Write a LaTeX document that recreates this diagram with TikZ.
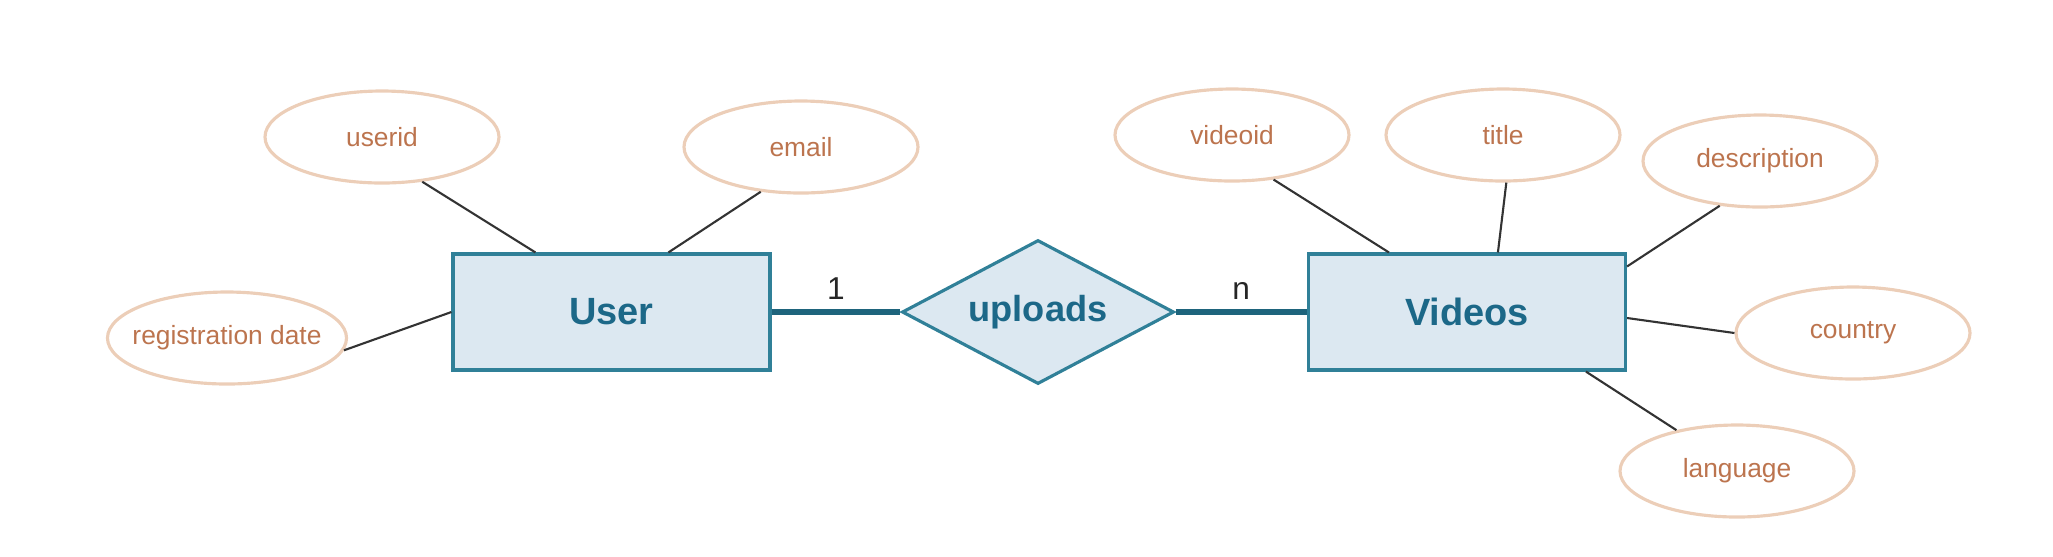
\documentclass[tikz,border=0pt]{standalone}
\usepackage{fontspec}
\setmainfont{Liberation Sans}
\usetikzlibrary{shapes.geometric,positioning}
\definecolor{entfill}{RGB}{220,232,241}
\definecolor{entline}{RGB}{48,128,152}
\definecolor{enttext}{RGB}{28,104,136}
\definecolor{attline}{RGB}{236,206,184}
\definecolor{atttext}{RGB}{188,116,78}
\definecolor{relline}{RGB}{30,100,124}
\tikzstyle{entity} = [rectangle, minimum width=3.17cm, minimum height=1.16cm, draw=entline, line width=0.9pt, fill=entfill, text=enttext, font=\fontsize{10.8}{13}\selectfont\bfseries]
\tikzstyle{relation} = [diamond, aspect=1.9, minimum width=2.72cm, minimum height=1.44cm, inner sep=0pt, draw=entline, line width=0.9pt, fill=entfill, text=enttext, font=\fontsize{10.3}{13}\selectfont\bfseries]
\tikzstyle{attr} = [ellipse, minimum width=2.34cm, minimum height=0.92cm, inner sep=0pt, draw=attline, line width=0.9pt, text=atttext, font=\fontsize{7.5}{9}\selectfont]
\tikzstyle{link} = [draw=black!80, line width=0.6pt]
\tikzstyle{card} = [line width=1.5pt, draw=relline]

\begin{document}
\begin{tikzpicture}
	\useasboundingbox (0,0) rectangle (20.53,-5.56);
	% entities and relationship
	\node[entity] (user) at (6.115,-3.12) {User};
	\node[relation] (upl) at (10.38,-3.12) {uploads};
	\node[entity] (videos) at (14.67,-3.12) {Videos};
	% attributes of User
	\node[attr] (userid) at (3.82,-1.37) {userid};
	\node[attr] (email) at (8.01,-1.47) {email};
	\node[attr, inner xsep=-0.1cm] (regdate) at (2.27,-3.38) {registration date};
	% attributes of Videos
	\node[attr] (videoid) at (12.32,-1.35) {videoid};
	\node[attr] (title) at (15.03,-1.35) {title};
	\node[attr] (descr) at (17.60,-1.61) {description};
	\node[attr] (country) at (18.53,-3.33) {country};
	\node[attr] (lang) at (17.37,-4.71) {language};
	% where the attribute lines meet the boxes
	\coordinate (u-1) at ([xshift=0.84cm]user.north west);
	\coordinate (u-2) at ([xshift=2.17cm]user.north west);
	\coordinate (v-1) at ([xshift=0.82cm]videos.north west);
	\coordinate (v-2) at ([xshift=1.91cm]videos.north west);
	\coordinate (v-3) at ([yshift=-0.14cm]videos.north east);
	\coordinate (v-4) at ([yshift=-0.06cm]videos.east);
	\coordinate (v-5) at ([xshift=2.79cm]videos.south west);

	\draw[link] (userid.312) -- (u-1);
	\draw[link] (email.228) -- (u-2);
	\draw[link] (regdate.-6) -- (user.west);
	\draw[link] (videoid.313) -- (v-1);
	\draw[link] (title.274) -- (v-2);
	\draw[link] (descr.228) -- (v-3);
	\draw[link] (country.west) -- (v-4);
	\draw[link] (lang.146) -- (v-5);

	\draw[card] (user) -- node[above=0.1cm, inner sep=0pt, text=black!85, font=\fontsize{9}{10}\selectfont] {1} (upl);
	\draw[card] (upl) -- node[above=0.1cm, inner sep=0pt, text=black!85, font=\fontsize{9}{10}\selectfont] {n} (videos);
\end{tikzpicture}
\end{document}
